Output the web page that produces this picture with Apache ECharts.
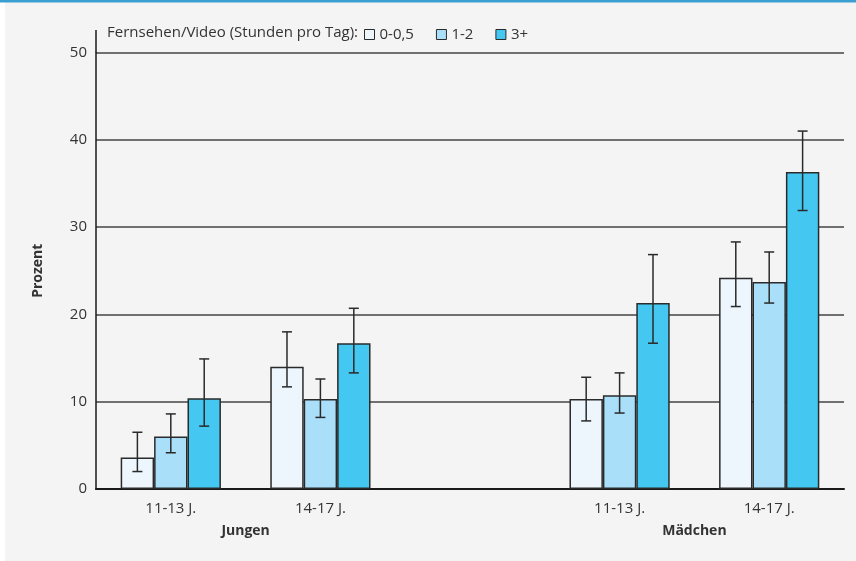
<!DOCTYPE html>
<html><head><meta charset="utf-8">
<script src="https://cdn.jsdelivr.net/npm/echarts@6/dist/echarts.min.js"></script>
<style>html,body{margin:0;padding:0;background:#fff;}#c{width:856px;height:561px;}</style>
</head><body><div id="c"></div>
<script>
const categories = ["11-13 J.", "14-17 J.", "", "11-13 J.", "14-17 J."];
const groupNames = ["Jungen", "Mädchen"];
const seriesNames = ["0-0,5", "1-2", "3+"];
const legendTitle = "Fernsehen/Video (Stunden pro Tag):";
const yTicks = [0, 10, 20, 30, 40, 50];
const val_0_05 = [3.6, 14.0, null, 10.3, 24.2];
const val_1_2  = [6.0, 10.3, null, 10.75, 23.7];
const val_3    = [10.4, 16.7, null, 21.3, 36.3];
const lo_0_05 = [2.0, 11.7, null, 7.8, 20.9];
const hi_0_05 = [6.5, 18.0, null, 12.8, 28.3];
const lo_1_2  = [4.15, 8.2, null, 8.7, 21.3];
const hi_1_2  = [8.6, 12.6, null, 13.3, 27.15];
const lo_3    = [7.2, 13.3, null, 16.7, 31.9];
const hi_3    = [14.9, 20.7, null, 26.85, 41.0];

const colors = ["#eef6fd", "#aadff9", "#44c8f1"];
const values = [val_0_05, val_1_2, val_3];
const lows = [lo_0_05, lo_1_2, lo_3];
const highs = [hi_0_05, hi_1_2, hi_3];
const FONT = "'Open Sans', 'Noto Sans', sans-serif";

const chart = echarts.init(document.getElementById('c'));
const barSeries = seriesNames.map((n, i) => ({
  name: n, type: 'bar', data: values[i], barGap: '0%', barCategoryGap: '33%',
  itemStyle: { color: colors[i], borderColor: '#2a2a2a', borderWidth: 1.5 },
  z: 2
}));
const errSeries = seriesNames.map((n, i) => ({
  type: 'custom', name: n + '_err', z: 5, silent: true,
  data: categories.map((c, k) => lows[i][k] == null ? null : [k, lows[i][k], highs[i][k]]).filter(d => d),
  renderItem: function (params, api) {
    const k = api.value(0);
    const bw = api.size([1, 0])[0];
    const barW = bw * (1 - 0.33) / 3;
    const cx = api.coord([k, 0])[0] + (i - 1) * barW;
    const yl = api.coord([k, api.value(1)])[1];
    const yh = api.coord([k, api.value(2)])[1];
    const cap = 5;
    const st = { stroke: '#2a2a2a', lineWidth: 1.5 };
    return { type: 'group', children: [
      { type: 'line', shape: { x1: cx, y1: yl, x2: cx, y2: yh }, style: st },
      { type: 'line', shape: { x1: cx - cap, y1: yl, x2: cx + cap, y2: yl }, style: st },
      { type: 'line', shape: { x1: cx - cap, y1: yh, x2: cx + cap, y2: yh }, style: st }
    ]};
  }
}));

chart.setOption({
  animation: false,
  backgroundColor: '#ffffff',
  grid: { left: 96, right: 12, top: 52.5, bottom: 72 },
  legend: {
    data: seriesNames, left: 364, top: 27, padding: 0, itemWidth: 10, itemHeight: 10, itemGap: 22,
    icon: 'rect',
    itemStyle: { borderColor: '#2a2a2a', borderWidth: 1 },
    textStyle: { fontFamily: FONT, fontSize: 15, color: '#333' }
  },
  xAxis: {
    type: 'category', data: categories,
    axisLine: { lineStyle: { color: '#1a1a1a', width: 2 } },
    axisTick: { show: false },
    axisLabel: { fontFamily: FONT, fontSize: 15, color: '#333', margin: 12 }
  },
  yAxis: {
    type: 'value', min: 0, max: 50, interval: 10,
    name: 'Prozent', nameLocation: 'middle', nameGap: 51, nameRotate: 90,
    nameTextStyle: { fontFamily: FONT, fontSize: 14, fontWeight: 'bold', color: '#333' },
    axisLine: { show: true, lineStyle: { color: '#1a1a1a', width: 1.5 } },
    axisTick: { show: false },
    axisLabel: { fontFamily: FONT, fontSize: 15, color: '#333', margin: 9,
      formatter: v => yTicks.includes(v) ? String(v) : '' },
    splitLine: { lineStyle: { color: '#444', width: 1.5 } }
  },
  series: barSeries.concat(errSeries)
});

function place() {
  const g = [];
  g.push({ type: 'rect', z: -10, shape: { x: 5, y: 0, width: 851, height: 561 }, style: { fill: '#f4f4f4' } });
  g.push({ type: 'rect', z: -9, shape: { x: 0, y: 0, width: 856, height: 2.5 }, style: { fill: '#3a9fd0' } });
  const y50 = chart.convertToPixel({ yAxisIndex: 0 }, 50);
  const x0 = chart.convertToPixel({ xAxisIndex: 0 }, 0);
  const x1 = chart.convertToPixel({ xAxisIndex: 0 }, 1);
  const x3 = chart.convertToPixel({ xAxisIndex: 0 }, 3);
  const x4 = chart.convertToPixel({ xAxisIndex: 0 }, 4);
  g.push({ type: 'line', z: 10, shape: { x1: 96, y1: 30, x2: 96, y2: y50 }, style: { stroke: '#1a1a1a', lineWidth: 1.5 } });
  g.push({ type: 'text', x: 107, y: 33, style: { text: legendTitle, font: '15px ' + FONT, fill: '#333', verticalAlign: 'middle' } });
  [[ (x0 + x1) / 2, groupNames[0]], [(x3 + x4) / 2, groupNames[1]]].forEach(([x, t]) => {
    g.push({ type: 'text', x: x, y: 531, style: { text: t, font: 'bold 14px ' + FONT, fill: '#333', align: 'center', verticalAlign: 'middle' } });
  });
  chart.setOption({ graphic: g });
}
place();
</script></body></html>
